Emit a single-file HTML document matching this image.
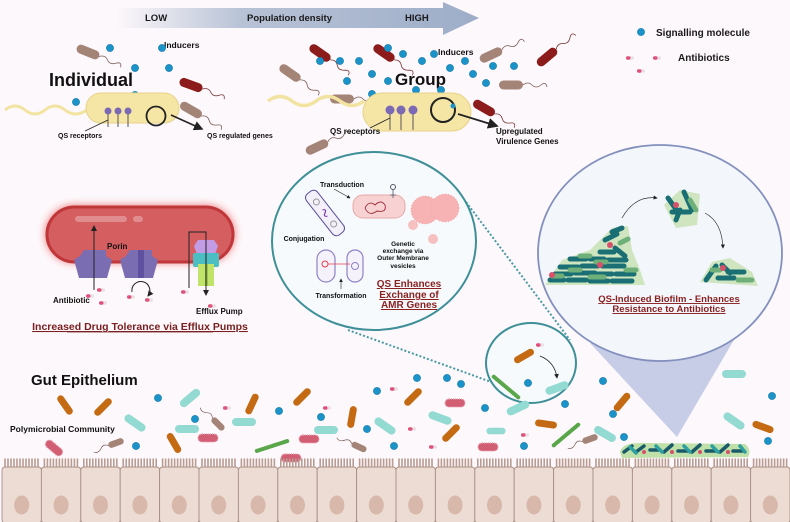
<!DOCTYPE html>
<html><head><meta charset="utf-8"><style>
html,body{margin:0;padding:0;background:#fdf8fb;}
svg{display:block;font-family:"Liberation Sans",Arial,sans-serif;}
.b{font-weight:bold;}
</style></head><body>
<svg width="790" height="522" viewBox="0 0 790 522" xmlns="http://www.w3.org/2000/svg">
<defs>
<linearGradient id="ag" x1="0" x2="1" y1="0" y2="0">
<stop offset="0" stop-color="#a6b4cc" stop-opacity="0"/>
<stop offset="0.35" stop-color="#a6b4cc" stop-opacity="0.8"/>
<stop offset="1" stop-color="#9dadc8"/>
</linearGradient>
<filter id="glow" x="-20%" y="-40%" width="140%" height="180%"><feGaussianBlur stdDeviation="4"/></filter>
<g id="pill"><rect x="-4" y="-1.7" width="8" height="3.4" rx="1.7" fill="#e8e0e4"/><rect x="-4" y="-1.7" width="4.5" height="3.4" rx="1.7" fill="#e0507a"/></g>
<g id="dot"><circle r="3.6" fill="#1b93c9"/><circle r="3.6" fill="none" stroke="#137aa8" stroke-width="0.6"/></g>
<g id="brod"><rect x="-12" y="-4.5" width="24" height="9" rx="4.5" fill="#a58478"/><path d="M12 0 q5 -4 9 0 t9 0 t6 2" fill="none" stroke="#7a5f58" stroke-width="0.8"/></g>
<g id="rrod"><rect x="-12" y="-4.5" width="24" height="9" rx="4.5" fill="#8c1c1c"/><path d="M12 0 q5 -4 9 0 t9 0 t6 2" fill="none" stroke="#7a3a3a" stroke-width="0.8"/></g>
<g id="orod"><rect x="-11" y="-3.5" width="22" height="7" rx="3.5" fill="#c36a12"/></g>
<g id="trod"><rect x="-12" y="-4" width="24" height="8" rx="4" fill="#92dad2"/></g>
<g id="prod"><rect x="-10" y="-4" width="20" height="8" rx="4" fill="#d25e74" stroke="#e9a1b0" stroke-width="1.2" stroke-dasharray="1 1"/></g>
<g id="gch"><path d="M-16 0 h32" stroke="#5aa64a" stroke-width="4" stroke-dasharray="3 0.8" stroke-linecap="round"/></g>
<g id="sbrod"><rect x="-8" y="-3.2" width="16" height="6.4" rx="3.2" fill="#a58478"/><path d="M-8 0 q-4 -4 -8 0 t-8 1" fill="none" stroke="#7a5f58" stroke-width="0.7"/></g>
<g id="cell"><rect x="0" y="467" width="39.4" height="56" rx="3" fill="#ecdcd3" stroke="#a88f86" stroke-width="0.9"/><ellipse cx="19.7" cy="505" rx="7.5" ry="9.5" fill="#d7b8ab"/>
<path d="M3 467 v-8 M6 467 v-8 M9 467 v-8 M12 467 v-8 M15 467 v-8 M18 467 v-8 M21 467 v-8 M24 467 v-8 M27 467 v-8 M30 467 v-8 M33 467 v-8 M36 467 v-8" stroke="#b99c92" stroke-width="1.6" stroke-linecap="round"/></g>
<marker id="ah" markerWidth="6" markerHeight="6" refX="5" refY="3" orient="auto"><path d="M0 0 L6 3 L0 6 z" fill="#222"/></marker>
</defs>

<!-- population arrow -->
<path d="M116 8 H443 V2 L479 18 L443 35 V28 H116 Z" fill="url(#ag)"/>
<text x="145" y="21" font-size="9.5" class="b" fill="#1a1a1a">LOW</text>
<text x="247" y="21" font-size="9.5" class="b" fill="#1a1a1a">Population density</text>
<text x="405" y="21" font-size="9.5" class="b" fill="#1a1a1a">HIGH</text>

<!-- legend -->
<use href="#dot" x="641" y="32"/>
<text x="656" y="36" font-size="10" class="b" fill="#1a1a1a">Signalling molecule</text>
<use href="#pill" x="630" y="58"/><use href="#pill" x="657" y="58"/><use href="#pill" x="641" y="71"/>
<text x="678" y="61" font-size="10" class="b" fill="#1a1a1a">Antibiotics</text>

<!-- Individual -->
<text x="49" y="86" font-size="18" class="b" fill="#111">Individual</text>
<text x="164" y="48" font-size="8.5" class="b" fill="#111">Inducers</text>
<g transform="translate(88,52) rotate(22)"><use href="#brod"/></g>
<g transform="translate(191,85) rotate(20)"><use href="#rrod"/></g>
<g transform="translate(191,110) rotate(30)"><use href="#brod"/></g>
<use href="#dot" x="110" y="48"/><use href="#dot" x="162" y="48"/><use href="#dot" x="135" y="68"/><use href="#dot" x="169" y="68"/><use href="#dot" x="135" y="95"/><use href="#dot" x="76" y="102"/>
<path d="M5 110 q10 -8 20 0 t20 0 t20 0 t22 0" fill="none" stroke="#f2e3a0" stroke-width="3"/>
<rect x="86" y="93" width="93" height="30" rx="15" fill="#f6e6a6" stroke="#e6d38a" stroke-width="1"/>
<g stroke="#555" stroke-width="1"><path d="M108 112 V127 M118 112 V127 M128 112 V127"/></g>
<g fill="#7b69b5"><circle cx="108" cy="111" r="3.5"/><circle cx="118" cy="111" r="3.5"/><circle cx="128" cy="111" r="3.5"/></g>
<circle cx="156" cy="116" r="9.5" fill="none" stroke="#222" stroke-width="1.8"/>
<line x1="171" y1="115" x2="202" y2="129" stroke="#222" stroke-width="1.6" marker-end="url(#ah)"/>
<line x1="108" y1="120" x2="85" y2="131" stroke="#222" stroke-width="0.8"/>
<text x="58" y="138" font-size="7" class="b" fill="#111">QS receptors</text>
<text x="207" y="138" font-size="7" class="b" fill="#111">QS regulated genes</text>

<!-- Group -->
<text x="395" y="85" font-size="17" class="b" fill="#111">Group</text>
<text x="438" y="55" font-size="8.5" class="b" fill="#111">Inducers</text>
<g transform="translate(320,53) rotate(35)"><use href="#rrod"/></g>
<g transform="translate(384,53) rotate(35)"><use href="#rrod"/></g>
<g transform="translate(290,73) rotate(35)"><use href="#brod"/></g>
<g transform="translate(491,55) rotate(-25)"><use href="#brod"/></g>
<g transform="translate(547,57) rotate(-40)"><use href="#rrod"/></g>
<g transform="translate(511,85) rotate(0)"><use href="#brod"/></g>
<g transform="translate(342,99) rotate(0)"><use href="#brod"/></g>
<g transform="translate(484,108) rotate(30)"><use href="#rrod"/></g>
<g transform="translate(317,147) rotate(-25)"><use href="#brod"/></g>
<g>
<use href="#dot" x="320" y="61"/><use href="#dot" x="340" y="61"/><use href="#dot" x="359" y="61"/><use href="#dot" x="388" y="48"/><use href="#dot" x="403" y="54"/><use href="#dot" x="422" y="61"/><use href="#dot" x="434" y="54"/><use href="#dot" x="450" y="68"/><use href="#dot" x="465" y="61"/><use href="#dot" x="493" y="66"/><use href="#dot" x="514" y="66"/><use href="#dot" x="372" y="74"/><use href="#dot" x="388" y="81"/><use href="#dot" x="347" y="81"/><use href="#dot" x="473" y="74"/><use href="#dot" x="486" y="83"/><use href="#dot" x="372" y="94"/><use href="#dot" x="416" y="90"/><use href="#dot" x="441" y="90"/>
</g>
<path d="M268 101 q12 -9 24 0 t24 0 t24 0 t24 0" fill="none" stroke="#f2e3a0" stroke-width="3.5"/>
<rect x="363" y="93" width="108" height="38" rx="19" fill="#f6e6a6" stroke="#e6d38a" stroke-width="1"/>
<g stroke="#555" stroke-width="1"><path d="M390 112 V130 M401 112 V130 M413 112 V130"/></g>
<g fill="#7b69b5"><circle cx="390" cy="110" r="4.5"/><circle cx="401" cy="110" r="4.5"/><circle cx="413" cy="110" r="4.5"/></g>
<circle cx="443" cy="110" r="12" fill="none" stroke="#222" stroke-width="2"/>
<circle cx="453" cy="106" r="2.5" fill="#1b93c9"/>
<line x1="458" y1="114" x2="497" y2="126" stroke="#222" stroke-width="1.8" marker-end="url(#ah)"/>
<line x1="390" y1="118" x2="370" y2="128" stroke="#222" stroke-width="0.8"/>
<text x="330" y="134" font-size="8" class="b" fill="#111">QS receptors</text>
<text x="496" y="134" font-size="8" class="b" fill="#111">Upregulated</text>
<text x="496" y="144" font-size="8" class="b" fill="#111">Virulence Genes</text>

<!-- Efflux cell -->
<rect x="45" y="205" width="190" height="58" rx="29" fill="#e03030" opacity="0.6" filter="url(#glow)"/>
<rect x="47" y="207" width="186" height="55" rx="27.5" fill="#d45e60" stroke="#c0373a" stroke-width="3"/>
<rect x="75" y="216" width="52" height="6" rx="3" fill="#e18c8e"/><rect x="133" y="216" width="10" height="6" rx="3" fill="#e18c8e"/>
<path d="M84 250 h22 v6 l6 4 -5 18 h-28 l-5 -18 6 -4 z" fill="#7a6db2"/>
<path d="M130 250 h22 v6 l6 4 -5 18 h-28 l-5 -18 6 -4 z" fill="#7a6db2"/><rect x="138" y="250" width="6" height="28" fill="#5f50a0"/>
<text x="107" y="249" font-size="8" class="b" fill="#111">Porin</text>
<line x1="94" y1="290" x2="94" y2="226" stroke="#222" stroke-width="1" marker-end="url(#ah)"/>
<path d="M132 292 a9 9 0 1 1 16 4" fill="none" stroke="#222" stroke-width="1" marker-end="url(#ah)"/>
<path d="M198 240 h16 l4 6 -4 11 h-16 l-4 -11 z" fill="#c29de6"/>
<rect x="193" y="253" width="26" height="14" rx="2" fill="#4bbfc1"/>
<rect x="198" y="264" width="16" height="22" fill="#c0e46a"/><rect x="205" y="264" width="3" height="22" fill="#9cc64a"/>
<path d="M189 288 V232 H206 V295" fill="none" stroke="#222" stroke-width="1" marker-end="url(#ah)"/>
<text x="53" y="303" font-size="8" class="b" fill="#111">Antibiotic</text>
<text x="196" y="314" font-size="8" class="b" fill="#111">Efflux Pump</text>
<use href="#pill" x="101" y="290"/><use href="#pill" x="90" y="296"/><use href="#pill" x="103" y="303"/><use href="#pill" x="131" y="297"/><use href="#pill" x="149" y="300"/><use href="#pill" x="185" y="292"/><use href="#pill" x="212" y="306"/>
<text x="140" y="330" font-size="10.5" class="b" fill="#7a2020" text-anchor="middle" text-decoration="underline">Increased Drug Tolerance via Efflux Pumps</text>
<line x1="67" y1="332" x2="213" y2="332" stroke="#7a2020" stroke-width="0.8"/>

<!-- dotted connectors -->
<path d="M348 330 L494 383" stroke="#4a9aa5" stroke-width="2" stroke-dasharray="2 2"/>
<path d="M466 202 L570 340" stroke="#4a9aa5" stroke-width="2" stroke-dasharray="2 2"/>

<!-- AMR circle -->
<ellipse cx="374" cy="241" rx="102" ry="89" fill="#f6fafc" stroke="#3e8f98" stroke-width="2"/>
<text x="342" y="187" font-size="7" class="b" fill="#111" text-anchor="middle">Transduction</text>
<rect x="353" y="195" width="52" height="23" rx="10" fill="#f8d2d2" stroke="#e8a8a8"/>
<path d="M365 208 q4 -8 10 -3 q6 -6 10 0 q2 8 -8 6 q-8 6 -12 -3" fill="none" stroke="#9c2a3a" stroke-width="0.9"/>
<circle cx="393" cy="187" r="2.5" fill="none" stroke="#556"/><path d="M393 190 v8 M390 195 h6" stroke="#556" stroke-width="0.8"/>
<line x1="334" y1="189" x2="350" y2="198" stroke="#222" stroke-width="0.6" marker-end="url(#ah)"/>
<g transform="translate(325,213) rotate(52)"><rect x="-26" y="-7" width="52" height="14" rx="5" fill="#f3f0fa" stroke="#5a4e9a" stroke-width="1"/><circle cx="-14" cy="0" r="3" fill="none" stroke="#999"/><circle cx="14" cy="0" r="3" fill="none" stroke="#999"/><path d="M-4 0 q2 -4 4 0 t4 0" stroke="#7b3fb0" fill="none" stroke-width="1.2"/></g>
<text x="304" y="241" font-size="7" class="b" fill="#111" text-anchor="middle">Conjugation</text>
<g stroke="#f39aa0" stroke-width="0.8"><circle cx="425" cy="210" r="14" fill="#f7b3b3" stroke-dasharray="1 2"/><circle cx="445" cy="208" r="14" fill="#f7b3b3" stroke-dasharray="1 2"/></g>
<circle cx="413" cy="225" r="5" fill="#f7c0c0"/><circle cx="433" cy="239" r="5" fill="#f7c0c0"/>
<g font-size="6.5" class="b" fill="#111" text-anchor="middle"><text x="403" y="246">Genetic</text><text x="403" y="253">exchange via</text><text x="403" y="260">Outer Membrane</text><text x="403" y="268">vesicles</text></g>
<rect x="317" y="250" width="18" height="32" rx="9" fill="#f6f2fb" stroke="#8f82c6" stroke-width="1.2"/>
<rect x="347" y="250" width="16" height="32" rx="8" fill="#f6f2fb" stroke="#8f82c6" stroke-width="1.2"/>
<circle cx="325" cy="264" r="3" fill="none" stroke="#e04050"/><path d="M328 264 h22" stroke="#e04050" stroke-width="0.8"/><circle cx="355" cy="266" r="3.5" fill="none" stroke="#8f82c6"/>
<line x1="341" y1="289" x2="341" y2="279" stroke="#222" stroke-width="0.6" marker-end="url(#ah)"/>
<text x="341" y="298" font-size="7" class="b" fill="#111" text-anchor="middle">Transformation</text>
<g font-size="10" class="b" fill="#8a2222" text-anchor="middle" text-decoration="underline"><text x="409" y="287">QS Enhances</text><text x="409" y="298">Exchange of</text><text x="409" y="308">AMR Genes</text></g>

<!-- biofilm circle + cone -->
<path d="M590 343 L738 333 L677 437 Z" fill="#c7cde6"/>
<ellipse cx="660" cy="253" rx="122" ry="108" fill="#f3f6fb" stroke="#8390bd" stroke-width="1.8"/>
<path d="M545 285 L562 260 L590 250 L612 228 L628 226 L632 250 L640 270 L645 285 Z" fill="#cfe5bf"/>
<g stroke-linecap="round" stroke-width="5">
<path d="M550 280 h14 M568 280 h18 M590 281 h18 M612 281 h20 M555 274 h16 M575 273 h20 M598 274 h14 M616 274 h18 M560 267 h18 M582 266 h16 M602 266 h22 M570 259 h16 M590 259 h14 M608 260 h18 M600 252 h14 M615 248 l10 8 M605 240 l12 -6 M612 232 l10 -4" stroke="#1a6f74"/>
<path d="M552 276 h10 M590 277 h14 M570 270 h10 M626 270 h10 M596 262 h10 M580 256 h10 M620 243 l8 -4" stroke="#6fb07a"/>
</g>
<circle cx="552" cy="275" r="3" fill="#d8506a"/><circle cx="610" cy="245" r="3" fill="#d8506a"/><circle cx="600" cy="265" r="3" fill="#d8506a"/>
<path d="M664 205 L680 190 L700 194 L697 225 L676 228 Z" fill="#cfe5bf"/>
<g stroke-width="5" stroke-linecap="round"><path d="M668 198 l10 14 M684 192 l8 18 M672 212 h18 M676 220 l4 -10" stroke="#1a6f74"/><path d="M690 200 l6 10" stroke="#6fb07a"/></g>
<circle cx="676" cy="205" r="3" fill="#d8506a"/>
<path d="M700 282 L712 262 L730 258 L752 272 L758 286 Z" fill="#cfe5bf"/>
<g stroke-width="5" stroke-linecap="round"><path d="M706 280 l10 -14 M718 278 h16 M728 272 h16 M722 265 l8 8" stroke="#1a6f74"/><path d="M738 280 h14 M712 270 h8" stroke="#6fb07a"/></g>
<circle cx="723" cy="268" r="3" fill="#d8506a"/>
<path d="M622 218 Q635 195 657 198" fill="none" stroke="#333" stroke-width="0.7" marker-end="url(#ah)"/>
<path d="M705 213 Q722 222 723 248" fill="none" stroke="#333" stroke-width="0.7" marker-end="url(#ah)"/>
<g font-size="9.5" class="b" fill="#8a2222" text-anchor="middle" text-decoration="underline"><text x="669" y="302">QS-Induced Biofilm - Enhances</text><text x="669" y="312">Resistance to Antibiotics</text></g>

<!-- small circle -->
<ellipse cx="531" cy="363" rx="45" ry="40" fill="#f6fafc" stroke="#3e8f98" stroke-width="2"/>
<g transform="translate(524,356) rotate(-30)"><use href="#orod"/></g>
<use href="#pill" x="540" y="345"/>
<path d="M540 356 Q555 362 557 378" fill="none" stroke="#222" stroke-width="0.8" marker-end="url(#ah)"/>
<g transform="translate(506,387) rotate(40)"><use href="#gch"/></g>
<g transform="translate(557,388) rotate(-20)"><use href="#trod"/></g>
<use href="#dot" x="528" y="383"/>

<!-- gut -->
<text x="31" y="385" font-size="15" class="b" fill="#111">Gut Epithelium</text>
<text x="10" y="432" font-size="8.5" class="b" fill="#111">Polymicrobial Community</text>
<g>
<g transform="translate(65,405) rotate(55)"><use href="#orod"/></g>
<g transform="translate(103,407) rotate(-45)"><use href="#orod"/></g>
<g transform="translate(174,443) rotate(60)"><use href="#orod"/></g>
<g transform="translate(252,404) rotate(-65)"><use href="#orod"/></g>
<g transform="translate(302,397) rotate(-45)"><use href="#orod"/></g>
<g transform="translate(352,417) rotate(-80)"><use href="#orod"/></g>
<g transform="translate(413,397) rotate(-45)"><use href="#orod"/></g>
<g transform="translate(451,433) rotate(-45)"><use href="#orod"/></g>
<g transform="translate(546,424) rotate(8)"><use href="#orod"/></g>
<g transform="translate(622,402) rotate(-50)"><use href="#orod"/></g>
<g transform="translate(763,427) rotate(20)"><use href="#orod"/></g>
<g transform="translate(190,398) rotate(-40)"><use href="#trod"/></g>
<g transform="translate(135,423) rotate(35)"><use href="#trod"/></g>
<g transform="translate(244,422)"><use href="#trod"/></g>
<g transform="translate(187,429)"><use href="#trod"/></g>
<g transform="translate(326,430)"><use href="#trod"/></g>
<g transform="translate(385,426) rotate(35)"><use href="#trod"/></g>
<g transform="translate(440,418) rotate(20)"><use href="#trod"/></g>
<g transform="translate(518,408) rotate(-25)"><use href="#trod"/></g>
<g transform="translate(496,431) scale(0.8)"><use href="#trod"/></g>
<g transform="translate(605,434) rotate(30)"><use href="#trod"/></g>
<g transform="translate(734,374)"><use href="#trod"/></g>
<g transform="translate(734,421) rotate(35)"><use href="#trod"/></g>
<g transform="translate(455,403)"><use href="#prod"/></g>
<g transform="translate(208,438)"><use href="#prod"/></g>
<g transform="translate(309,439)"><use href="#prod"/></g>
<g transform="translate(488,447)"><use href="#prod"/></g>
<g transform="translate(54,448) rotate(40)"><use href="#prod"/></g>
<g transform="translate(291,458)"><use href="#prod"/></g>
<g transform="translate(272,446) rotate(-18)"><use href="#gch"/></g>
<g transform="translate(566,435) rotate(-40)"><use href="#gch"/></g>
<g transform="translate(218,424) rotate(45)"><use href="#sbrod"/></g>
<g transform="translate(116,443) rotate(-20)"><use href="#sbrod"/></g>
<g transform="translate(359,447) rotate(25)"><use href="#sbrod"/></g>
<g transform="translate(590,439) rotate(-20)"><use href="#sbrod"/></g>
<use href="#dot" x="158" y="398"/><use href="#dot" x="279" y="411"/><use href="#dot" x="195" y="419"/><use href="#dot" x="321" y="417"/><use href="#dot" x="377" y="391"/><use href="#dot" x="417" y="378"/><use href="#dot" x="447" y="378"/><use href="#dot" x="461" y="384"/><use href="#dot" x="367" y="429"/><use href="#dot" x="394" y="446"/><use href="#dot" x="485" y="408"/><use href="#dot" x="136" y="446"/><use href="#dot" x="565" y="404"/><use href="#dot" x="603" y="381"/><use href="#dot" x="613" y="414"/><use href="#dot" x="624" y="437"/><use href="#dot" x="772" y="396"/><use href="#dot" x="768" y="441"/><use href="#dot" x="524" y="446"/>
<use href="#pill" x="394" y="389"/><use href="#pill" x="227" y="408"/><use href="#pill" x="327" y="408"/><use href="#pill" x="412" y="429"/><use href="#pill" x="433" y="447"/><use href="#pill" x="525" y="435"/>
</g>
<!-- epithelium cells -->
<g>
<use href="#cell" x="2"/><use href="#cell" x="41.4"/><use href="#cell" x="80.8"/><use href="#cell" x="120.2"/><use href="#cell" x="159.6"/><use href="#cell" x="199"/><use href="#cell" x="238.4"/><use href="#cell" x="277.8"/><use href="#cell" x="317.2"/><use href="#cell" x="356.6"/><use href="#cell" x="396"/><use href="#cell" x="435.4"/><use href="#cell" x="474.8"/><use href="#cell" x="514.2"/><use href="#cell" x="553.6"/><use href="#cell" x="593"/><use href="#cell" x="632.4"/><use href="#cell" x="671.8"/><use href="#cell" x="711.2"/><use href="#cell" x="750.6"/>
</g>
<!-- biofilm on epithelium -->
<path d="M620 452 Q622 443 640 443 L745 444 Q752 450 748 457 L622 458 Z" fill="#bfe0a8"/>
<g stroke-width="3.5" stroke-linecap="round">
<path d="M624 452 l8 -6 M636 452 l8 -6 M650 450 h10 M664 452 l8 -7 M678 451 h10 M692 452 l8 -7 M706 451 h10 M720 452 l8 -7 M733 451 h10" stroke="#1a5a68"/>
<path d="M630 447 l6 6 M656 446 l6 6 M684 446 l6 6 M712 446 l6 6 M740 446 l5 6" stroke="#2fa0a0"/>
</g>
<g fill="#d8506a"><circle cx="644" cy="452" r="2"/><circle cx="672" cy="452" r="2"/><circle cx="700" cy="452" r="2"/><circle cx="728" cy="452" r="2"/></g>
</svg>
</body></html>
